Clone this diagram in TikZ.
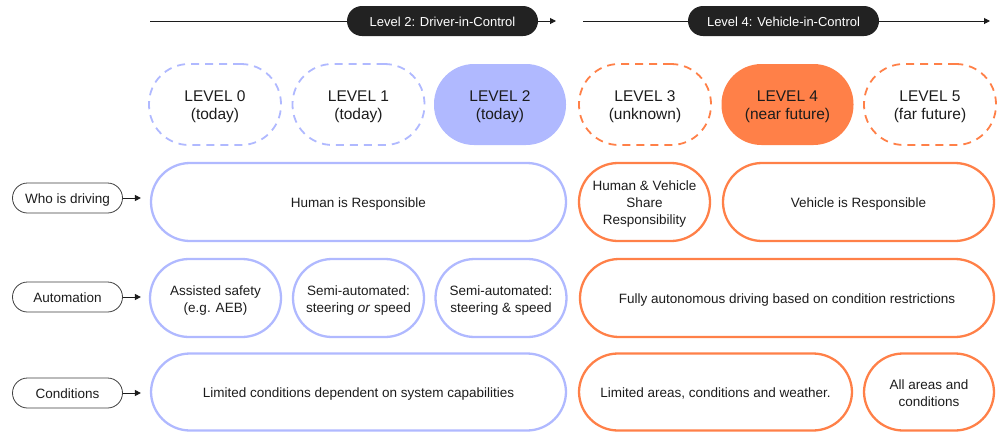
\documentclass[tikz,border=0pt]{standalone}
\usepackage{fontspec}
\setmainfont{Liberation Sans}
\usetikzlibrary{arrows.meta}
\definecolor{lav}{RGB}{176,185,255}
\definecolor{org}{RGB}{255,128,72}
\definecolor{ink}{RGB}{28,28,28}
\definecolor{bar}{RGB}{34,34,34}
% centred lines of node text, set slightly low so the capitals sit mid-box
\newcommand\nt[1]{\raisebox{-2.5pt}[\height][\depth]{\begin{tabular}{@{}c@{}}#1\end{tabular}}}
\begin{document}
\begin{tikzpicture}[x=1pt,y=-1pt,
  txt/.style={text=ink,inner sep=0pt,font=\fontsize{13.5}{17}\selectfont},
  lvl/.style={txt,rounded corners=40pt,minimum width=132pt,minimum height=81pt,font=\fontsize{15.5}{17.5}\selectfont},
  dashlav/.style={lvl,draw=lav,line width=1.8pt,dash pattern=on 8pt off 6pt},
  dashorg/.style={lvl,draw=org,line width=1.8pt,dash pattern=on 8pt off 6pt},
  cell/.style={txt,line width=2.3pt,minimum height=78pt,rounded corners=39pt},
  lavcell/.style={cell,draw=lav},
  orgcell/.style={cell,draw=org},
  rowlabel/.style={txt,draw=ink!85,line width=0.8pt,rounded corners=15pt,minimum width=110pt,minimum height=30pt},
  phase/.style={txt,fill=bar,text=white,rounded corners=15pt,minimum width=191pt,minimum height=30pt,font=\fontsize{13}{15}\selectfont},
  tip/.style={-{Triangle[length=6pt,width=6pt]},line width=1pt,draw=ink}
]
\useasboundingbox (0,0) rectangle (1005,432);

% phase timelines
\coordinate (p2s) at (150,21);
\coordinate (p2e) at (556,21);
\coordinate (p4s) at (583,21);
\coordinate (p4e) at (990,21);
\draw[tip] (p2s) -- (p2e);
\draw[tip] (p4s) -- (p4e);
\node[phase] (phase2) at (442.5,21) {\nt{Level 2: Driver-in-Control}};
\node[phase] (phase4) at (783.5,21) {\nt{Level 4: Vehicle-in-Control}};

% automation levels
\node[dashlav] (lv0) at (215,104.5) {\nt{LEVEL 0\\(today)}};
\node[dashlav] (lv1) at (358.5,104.5) {\nt{LEVEL 1\\(today)}};
\node[lvl,fill=lav] (lv2) at (500,104.5) {\nt{LEVEL 2\\(today)}};
\node[dashorg] (lv3) at (645,104.5) {\nt{LEVEL 3\\(unknown)}};
\node[lvl,fill=org] (lv4) at (787.5,104.5) {\nt{LEVEL 4\\(near future)}};
\node[dashorg] (lv5) at (930,104.5) {\nt{LEVEL 5\\(far future)}};

% who is driving
\node[rowlabel] (who) at (67.5,198) {\nt{Who is driving}};
\draw[tip] (who.east) -- ++(18,0);
\node[lavcell,minimum width=415pt] (human) at (358.5,202) {\nt{Human is Responsible}};
\node[orgcell,minimum width=131pt] (share) at (644.5,202) {\nt{Human \& Vehicle\\Share\\Responsibility}};
\node[orgcell,minimum width=271pt] (vehicle) at (858.5,202) {\nt{Vehicle is Responsible}};

% automation
\node[rowlabel] (auto) at (67.5,297) {\nt{Automation}};
\draw[tip] (auto.east) -- ++(18,0);
\node[lavcell,minimum width=131pt] (assist) at (215.5,298) {\nt{Assisted safety\\(e.g. AEB)}};
\node[lavcell,minimum width=131pt] (semi1) at (358.5,298) {\nt{Semi-automated:\\steering \emph{or} speed}};
\node[lavcell,minimum width=131pt] (semi2) at (501,298) {\nt{Semi-automated:\\steering \& speed}};
\node[orgcell,minimum width=414pt] (full) at (787,298) {\nt{Fully autonomous driving based on condition restrictions}};

% conditions
\node[rowlabel] (cond) at (67.5,393) {\nt{Conditions}};
\draw[tip] (cond.east) -- ++(18,0);
\node[lavcell,minimum width=415pt,minimum height=77pt] (limsys) at (358.5,392) {\nt{Limited conditions dependent on system capabilities}};
\node[orgcell,minimum width=273pt,minimum height=77pt] (limarea) at (715.5,392) {\nt{Limited areas, conditions and weather.}};
\node[orgcell,minimum width=130pt,minimum height=77pt] (allarea) at (929,392) {\nt{All areas and\\conditions}};
\end{tikzpicture}
\end{document}
